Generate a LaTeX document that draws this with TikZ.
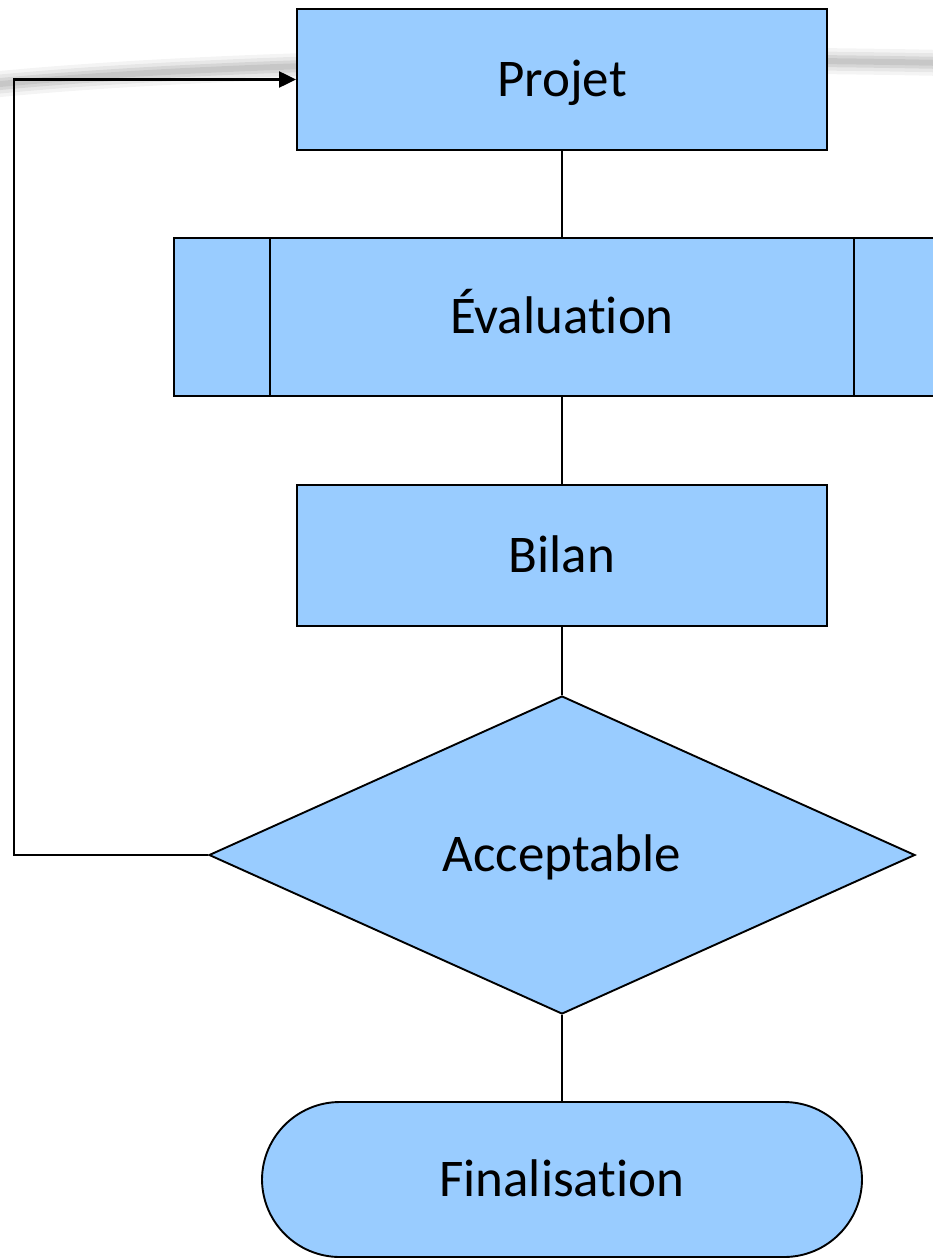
\documentclass[tikz,border=0pt]{standalone}
\usepackage{fontspec}
\setmainfont{Carlito}[Ligatures=CommonOff]
\usetikzlibrary{shapes.geometric,arrows.meta}
\definecolor{boxfill}{HTML}{99CCFF}
\definecolor{swoosh}{HTML}{A8A8A8}
\begin{document}
\begin{tikzpicture}[x=1pt,y=-1pt,
  shapebase/.style={draw=black, line width=1.9pt, fill=boxfill, inner sep=0pt,
    text height=33pt, text depth=0pt,
    font=\fontsize{53}{63}\selectfont},
  procbox/.style={shapebase, rectangle, minimum width=530pt, minimum height=141pt},
  subproc/.style={shapebase, rectangle, minimum width=776pt, minimum height=158pt},
  decision/.style={shapebase, diamond, minimum width=706pt, minimum height=318pt, shape aspect=2.22},
  terminal/.style={shapebase, rectangle, rounded corners=78pt, minimum width=600pt, minimum height=155pt},
  link/.style={draw=black, line width=2.3pt},
  arrowlink/.style={link, -{Triangle[length=17pt,width=16pt]}}
]
\useasboundingbox (0,0) rectangle (932,1258);

% soft grey swoosh behind the top of the chart
\foreach \w/\o in {26/0.12,19/0.18,12/0.26,6/0.33}
  \draw[swoosh, line width=\w pt, opacity=\o, line cap=round]
    (-10,85) .. controls (220,62) and (600,56) .. (945,63);

% flowchart nodes
\node[procbox]  (projet) at (562,79.5)  {Projet};
\node[subproc]  (eval)   at (562,317)   {Évaluation};
\draw[line width=1.9pt] ([xshift=97pt]eval.north west) -- ([xshift=97pt]eval.south west);
\draw[line width=1.9pt] ([xshift=-97pt]eval.north east) -- ([xshift=-97pt]eval.south east);
\node[procbox]  (bilan)  at (562,555.5) {Bilan};
\node[decision] (accept) at (562,855)   {Acceptable};
\node[terminal] (final)  at (562,1179.5){Finalisation};

% connectors
\draw[link] (projet.south) -- (eval.north);
\draw[link] (eval.south) -- (bilan.north);
\draw[link] (bilan.south) -- (accept.north);
\draw[link] (accept.south) -- (final.north);

\coordinate (loopx) at (14,0);
\draw[arrowlink] (accept.west) -- (accept.west -| loopx) |- (projet.west);
\end{tikzpicture}
\end{document}
